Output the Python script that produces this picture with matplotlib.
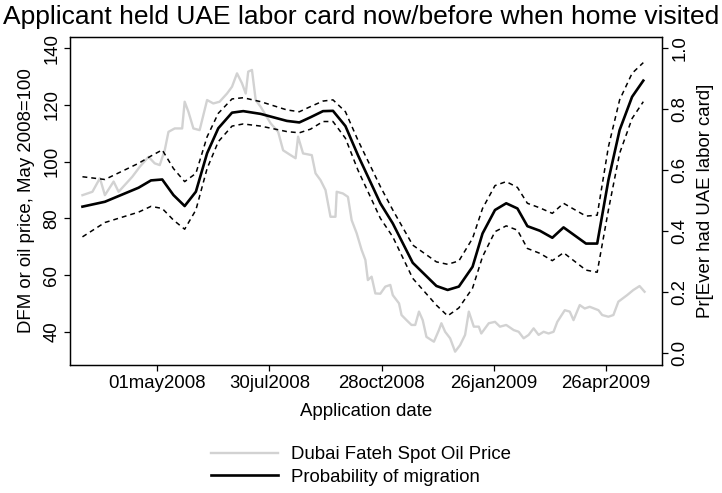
import pandas as pd
import matplotlib
matplotlib.use("Agg")
import matplotlib.pyplot as plt

plt.rcParams["font.family"] = ["Liberation Sans", "DejaVu Sans"]

BASE_DATE = pd.Timestamp("2008-05-01")

# fitted probability of migration (days after 01may2008)
prob_days = [-60, -42, -15, -5, 4, 13, 22, 31, 40, 49, 60, 69, 83, 104, 114,
             123, 133, 141, 151, 161, 179, 189, 205, 224, 233, 242, 253, 261,
             271, 280, 289, 297, 307, 317, 326, 344, 353, 362, 371, 381, 390]
prob_mid = [0.480, 0.496, 0.542, 0.566, 0.569, 0.518, 0.482, 0.529, 0.655,
            0.737, 0.788, 0.793, 0.784, 0.761, 0.756, 0.773, 0.793, 0.794,
            0.744, 0.649, 0.491, 0.425, 0.296, 0.220, 0.207, 0.218, 0.283,
            0.392, 0.469, 0.491, 0.474, 0.416, 0.401, 0.378, 0.412, 0.359,
            0.359, 0.567, 0.731, 0.840, 0.893]
prob_hi = [0.578, 0.569, 0.622, 0.646, 0.666, 0.605, 0.562, 0.589, 0.709,
           0.786, 0.833, 0.837, 0.824, 0.797, 0.791, 0.808, 0.826, 0.830,
           0.791, 0.698, 0.546, 0.469, 0.354, 0.299, 0.291, 0.302, 0.376,
           0.474, 0.549, 0.562, 0.543, 0.491, 0.476, 0.458, 0.491, 0.449,
           0.452, 0.676, 0.830, 0.917, 0.952]
prob_lo = [0.381, 0.428, 0.462, 0.481, 0.474, 0.436, 0.406, 0.469, 0.605,
           0.693, 0.744, 0.751, 0.744, 0.726, 0.722, 0.734, 0.759, 0.759,
           0.704, 0.600, 0.442, 0.381, 0.245, 0.157, 0.122, 0.148, 0.213,
           0.316, 0.398, 0.417, 0.403, 0.343, 0.327, 0.303, 0.329, 0.272,
           0.265, 0.469, 0.655, 0.769, 0.824]

# Dubai Fateh spot oil price, May 2008 = 100
oil_days = [-60, -52, -46, -42, -35, -31, -20, -14, -7, -2, 2, 6, 9, 14, 20,
            22, 25, 29, 34, 40, 45, 50, 56, 60, 64, 68, 71, 73, 76, 79, 83,
            91, 97, 101, 107, 111, 113, 117, 124, 127, 131, 135, 139, 143,
            144, 149, 153, 156, 160, 164, 167, 169, 172, 175, 179, 183, 187,
            189, 194, 196, 200, 204, 207, 210, 213, 216, 222, 226, 228, 231,
            235, 239, 243, 247, 250, 254, 258, 260, 266, 271, 275, 280, 286,
            290, 294, 298, 302, 306, 310, 314, 318, 321, 327, 331, 334, 339,
            343, 347, 354, 357, 362, 366, 370, 377, 382, 387, 391]
oil_index = [88.2, 89.4, 94.2, 88.2, 93.0, 89.4, 94.7, 98.2, 101.7, 99.4,
             98.8, 104.0, 110.5, 111.7, 111.7, 121.1, 117.6, 111.7, 111.1,
             121.7, 120.5, 121.1, 124.0, 126.4, 131.1, 127.6, 124.0, 131.7,
             132.3, 121.7, 119.3, 113.5, 110.5, 104.0, 102.3, 101.2, 108.8,
             102.9, 102.3, 95.9, 93.5, 90.0, 80.6, 80.6, 89.4, 88.8, 87.6,
             79.4, 74.8, 68.9, 65.4, 58.3, 59.5, 53.6, 53.5, 56.0, 56.6, 53.0,
             50.1, 46.0, 44.2, 42.5, 42.5, 47.2, 44.2, 38.3, 36.6, 40.7, 43.1,
             40.1, 37.8, 33.1, 35.4, 39.0, 47.2, 41.9, 41.9, 39.5, 43.1, 43.6,
             41.9, 42.5, 40.7, 40.1, 37.8, 39.0, 41.3, 39.0, 40.1, 39.5, 40.1,
             43.6, 47.7, 47.2, 44.2, 49.5, 48.3, 48.9, 47.7, 46.0, 45.4, 46.0,
             50.7, 53.0, 54.8, 56.2, 54.2]

tick_dates = ["2008-05-01", "2008-07-30", "2008-10-28", "2009-01-26", "2009-04-26"]
tick_labels = ["01may2008", "30jul2008", "28oct2008", "26jan2009", "26apr2009"]

prob_x = BASE_DATE + pd.to_timedelta(prob_days, unit="D")
oil_x = BASE_DATE + pd.to_timedelta(oil_days, unit="D")

FS = 13.4

fig = plt.figure(figsize=(7.22, 4.93), dpi=100)
ax = fig.add_axes([70 / 722, 1 - 365 / 493, 592 / 722, 328 / 493])
ax2 = ax.twinx()

oil_line, = ax.plot(oil_x, oil_index, color="#d2d2d2", lw=1.7,
                    label="Dubai Fateh Spot Oil Price")
mid_line, = ax2.plot(prob_x, prob_mid, color="black", lw=1.9,
                     label="Probability of migration")
ax2.plot(prob_x, prob_hi, color="black", lw=1.1, ls=(0, (3.2, 2.6)))
ax2.plot(prob_x, prob_lo, color="black", lw=1.1, ls=(0, (3.2, 2.6)))

ax.set_xlim(pd.Timestamp("2008-02-21"), pd.Timestamp("2009-06-10"))
ax.set_ylim(28.4, 143.9)
ax2.set_ylim(-0.039, 1.036)

ax.set_xticks(pd.to_datetime(tick_dates))
ax.set_xticklabels(tick_labels, fontsize=FS)
ax.set_yticks(range(40, 141, 20))
ax.set_yticklabels([str(v) for v in range(40, 141, 20)], fontsize=FS,
                   rotation=90, va="center")
ax2.set_yticks([0, 0.2, 0.4, 0.6, 0.8, 1.0])
ax2.set_yticklabels(["0.0", "0.2", "0.4", "0.6", "0.8", "1.0"], fontsize=FS,
                    rotation=90, va="center")

for a in (ax, ax2):
    a.tick_params(direction="out", length=4, width=0.9, pad=3)
    for s in a.spines.values():
        s.set_linewidth(0.9)

ax.set_xlabel("Application date", fontsize=FS, labelpad=8)
ax.set_ylabel("DFM or oil price, May 2008=100", fontsize=FS, labelpad=6)
ax2.set_ylabel("Pr[Ever had UAE labor card]", fontsize=FS, rotation=90,
               labelpad=6)

fig.text(0.5, 1 - 17 / 493, "Applicant held UAE labor card now/before when home visited",
         ha="center", va="center", fontsize=19)

fig.legend(handles=[oil_line, mid_line], loc="center",
           bbox_to_anchor=(0.5, 1 - 466 / 493), frameon=False, fontsize=FS,
           handlelength=3.6, handletextpad=0.7, labelspacing=0.32)

fig.savefig("out.png", dpi=100)
